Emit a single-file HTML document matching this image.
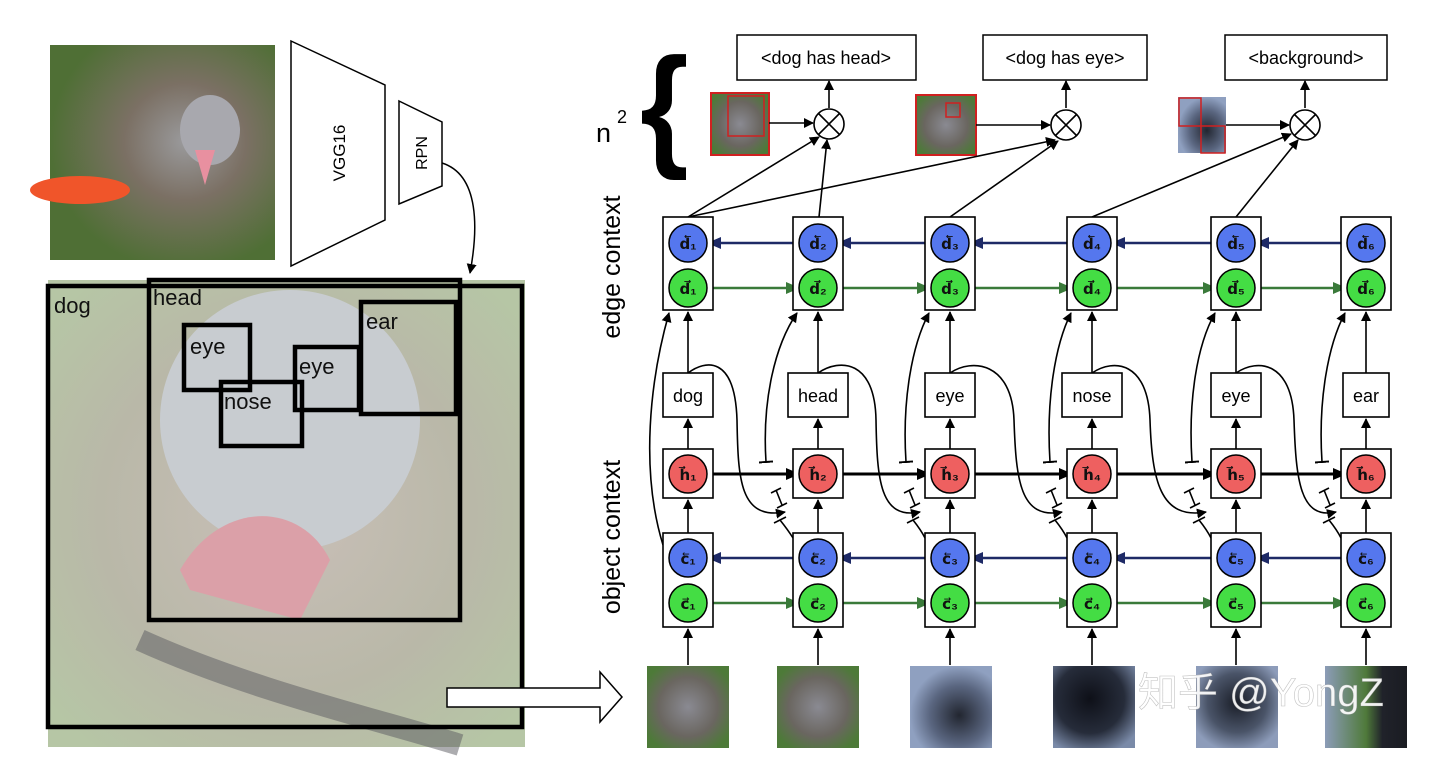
<!DOCTYPE html>
<html><head><meta charset="utf-8">
<style>
html,body{margin:0;padding:0;background:#fff;}
svg{display:block;}
text{font-family:"Liberation Sans","Noto Sans CJK SC",sans-serif;}
.m{font-family:"Liberation Serif",serif;font-weight:bold;}
</style></head>
<body>
<svg width="1440" height="758" viewBox="0 0 1440 758" xmlns="http://www.w3.org/2000/svg">
<defs>
<marker id="ak" markerWidth="10" markerHeight="10" refX="9" refY="5" orient="auto" markerUnits="userSpaceOnUse"><path d="M0,0 L10,5 L0,10 Z" fill="#000"/></marker>
<marker id="ab" markerWidth="14" markerHeight="14" refX="13" refY="7" orient="auto" markerUnits="userSpaceOnUse"><path d="M0,1 L14,7 L0,13 Z" fill="#000"/></marker>
<marker id="abl" markerWidth="14" markerHeight="12" refX="13" refY="6" orient="auto" markerUnits="userSpaceOnUse"><path d="M0,0 L14,6 L0,12 Z" fill="#1e2a66"/></marker>
<marker id="agr" markerWidth="14" markerHeight="12" refX="13" refY="6" orient="auto" markerUnits="userSpaceOnUse"><path d="M0,0 L14,6 L0,12 Z" fill="#3a7a3a"/></marker>
<marker id="tb" markerWidth="14" markerHeight="14" refX="1" refY="7" orient="auto" markerUnits="userSpaceOnUse"><path d="M1,0 L1,14" stroke="#000" stroke-width="2"/></marker>
<radialGradient id="dogp" cx="0.6" cy="0.45" r="0.6"><stop offset="0" stop-color="#9a9a9c"/><stop offset="0.45" stop-color="#7b7064"/><stop offset="1" stop-color="#4f6f35"/></radialGradient>
<radialGradient id="bigp" cx="0.5" cy="0.5" r="0.65"><stop offset="0" stop-color="#c9bfb8"/><stop offset="0.6" stop-color="#b9b8a8"/><stop offset="1" stop-color="#b6c6a5"/></radialGradient>
<radialGradient id="th1" cx="0.5" cy="0.5" r="0.6"><stop offset="0" stop-color="#8a8a92"/><stop offset="0.6" stop-color="#6a6660"/><stop offset="1" stop-color="#4d7a38"/></radialGradient>
<radialGradient id="th3" cx="0.6" cy="0.6" r="0.6"><stop offset="0" stop-color="#222630"/><stop offset="0.6" stop-color="#5a6680"/><stop offset="1" stop-color="#8fa0c0"/></radialGradient>
<radialGradient id="th4" cx="0.45" cy="0.4" r="0.7"><stop offset="0" stop-color="#0e1018"/><stop offset="0.6" stop-color="#262c3a"/><stop offset="1" stop-color="#7a8aa8"/></radialGradient>
<radialGradient id="th5" cx="0.5" cy="0.45" r="0.6"><stop offset="0" stop-color="#1a1e28"/><stop offset="0.6" stop-color="#4a5468"/><stop offset="1" stop-color="#8d9cba"/></radialGradient>
<linearGradient id="th6" x1="0" x2="1"><stop offset="0" stop-color="#8c9cb8"/><stop offset="0.5" stop-color="#4f7a3a"/><stop offset="0.7" stop-color="#20222a"/><stop offset="1" stop-color="#1a1c22"/></linearGradient>
</defs>

<rect x="50" y="45" width="225" height="215" fill="url(#dogp)"/>
<ellipse cx="80" cy="190" rx="50" ry="14" fill="#f0552a"/>
<ellipse cx="210" cy="130" rx="30" ry="35" fill="#a8a8ae"/>
<path d="M195,150 L205,185 L215,150 Z" fill="#e890a0"/>

<path d="M291,41 L385,85 L385,220 L291,266 Z" fill="#fff" stroke="#000" stroke-width="1.5"/>
<text transform="translate(345,153) rotate(-90)" font-size="17" text-anchor="middle">VGG16</text>
<path d="M399,101 L442,122 L442,186 L399,204 Z" fill="#fff" stroke="#000" stroke-width="1.5"/>
<text transform="translate(427,153) rotate(-90)" font-size="16" text-anchor="middle">RPN</text>
<path d="M442,163 C480,175 478,230 470,273" fill="none" stroke="#000" stroke-width="1.5" marker-end="url(#ak)"/>

<rect x="48" y="280" width="477" height="467" fill="url(#bigp)"/>
<ellipse cx="290" cy="420" rx="130" ry="130" fill="#c8ccd0"/>
<path d="M180,570 C220,500 300,500 330,560 L300,620 L190,590 Z" fill="#dba0a8"/>
<path d="M140,640 C250,690 380,720 460,745" stroke="#5a5a60" stroke-width="22" fill="none" opacity="0.5"/>
<g fill="none" stroke="#000" stroke-width="4.5">
<rect x="48" y="286" width="474" height="441"/>
<rect x="149" y="280" width="311" height="340"/>
<rect x="184" y="325" width="66" height="65"/>
<rect x="221" y="382" width="81" height="64"/>
<rect x="295" y="347" width="64" height="63"/>
<rect x="361" y="302" width="95" height="112"/>
</g>
<g font-size="22" fill="#111">
<text x="54" y="313">dog</text>
<text x="153" y="305">head</text>
<text x="190" y="354">eye</text>
<text x="224" y="409">nose</text>
<text x="299" y="374">eye</text>
<text x="366" y="329">ear</text>
</g>
<path d="M447,688 L600,688 L600,672 L622,697 L600,722 L600,707 L447,707 Z" fill="#fff" stroke="#000" stroke-width="1.5"/>

<text transform="translate(620,267) rotate(-90)" font-size="25" text-anchor="middle">edge context</text>
<text transform="translate(620,537) rotate(-90)" font-size="25" text-anchor="middle">object context</text>
<text x="596" y="142" font-size="27">n</text>
<text x="617" y="123" font-size="18">2</text>
<text x="640" y="152" font-size="125" font-family="Liberation Serif,serif" font-weight="bold" transform="translate(640,152) scale(1,1.08) translate(-640,-152)">{</text>

<g fill="#fff" stroke="#000" stroke-width="1.5">
<rect x="737" y="35" width="179" height="45"/>
<rect x="983" y="35" width="164" height="45"/>
<rect x="1225" y="35" width="162" height="45"/>
</g>
<g font-size="18" text-anchor="middle">
<text x="826" y="64">&lt;dog has head&gt;</text>
<text x="1065" y="64">&lt;dog has eye&gt;</text>
<text x="1306" y="64">&lt;background&gt;</text>
</g>
<rect x="711" y="93" width="58" height="62" fill="url(#th1)" stroke="#d02020" stroke-width="2"/>
<rect x="728" y="96" width="36" height="40" fill="none" stroke="#d02020" stroke-width="1.5"/>
<rect x="916" y="95" width="60" height="60" fill="url(#th1)" stroke="#d02020" stroke-width="2"/>
<rect x="946" y="103" width="14" height="14" fill="none" stroke="#d02020" stroke-width="1.5"/>
<rect x="1178" y="97" width="48" height="56" fill="url(#th3)"/>
<rect x="1179" y="98" width="22" height="28" fill="none" stroke="#d02020" stroke-width="1.5"/>
<rect x="1201" y="126" width="24" height="27" fill="none" stroke="#d02020" stroke-width="1.5"/>

<g stroke="#000" stroke-width="1.6" fill="none">
<line x1="769" y1="123" x2="813" y2="123" marker-end="url(#ak)"/>
<line x1="976" y1="125" x2="1050" y2="125" marker-end="url(#ak)"/>
<line x1="1226" y1="125" x2="1289" y2="125" marker-end="url(#ak)"/>
<line x1="829" y1="108" x2="829" y2="81" marker-end="url(#ak)"/>
<line x1="1066" y1="108" x2="1066" y2="81" marker-end="url(#ak)"/>
<line x1="1305" y1="108" x2="1305" y2="81" marker-end="url(#ak)"/>
<circle cx="829" cy="124" r="15"/><path d="M818,113 L840,135 M840,113 L818,135"/>
<circle cx="1066" cy="125" r="15"/><path d="M1055,114 L1077,136 M1077,114 L1055,136"/>
<circle cx="1305" cy="125" r="15"/><path d="M1294,114 L1316,136 M1316,114 L1294,136"/>
<line x1="688" y1="217" x2="819" y2="137" marker-end="url(#ak)"/>
<line x1="688" y1="217" x2="1055" y2="140" marker-end="url(#ak)"/>
<line x1="819" y1="217" x2="827" y2="140" marker-end="url(#ak)"/>
<line x1="950" y1="217" x2="1058" y2="141" marker-end="url(#ak)"/>
<line x1="1092" y1="217" x2="1291" y2="134" marker-end="url(#ak)"/>
<line x1="1236" y1="217" x2="1298" y2="140" marker-end="url(#ak)"/>
</g>

<g stroke-width="2.5" fill="none">
<g stroke="#1e2a66">
<line x1="800" y1="243" x2="708" y2="243" marker-end="url(#abl)"/>
<line x1="931" y1="243" x2="838" y2="243" marker-end="url(#abl)"/>
<line x1="1073" y1="243" x2="970" y2="243" marker-end="url(#abl)"/>
<line x1="1217" y1="243" x2="1112" y2="243" marker-end="url(#abl)"/>
<line x1="1347" y1="243" x2="1256" y2="243" marker-end="url(#abl)"/>
<line x1="800" y1="558" x2="708" y2="558" marker-end="url(#abl)"/>
<line x1="931" y1="558" x2="838" y2="558" marker-end="url(#abl)"/>
<line x1="1073" y1="558" x2="970" y2="558" marker-end="url(#abl)"/>
<line x1="1217" y1="558" x2="1112" y2="558" marker-end="url(#abl)"/>
<line x1="1347" y1="558" x2="1256" y2="558" marker-end="url(#abl)"/>
</g>
<g stroke="#3a7a3a">
<line x1="707" y1="288" x2="799" y2="288" marker-end="url(#agr)"/>
<line x1="837" y1="288" x2="930" y2="288" marker-end="url(#agr)"/>
<line x1="969" y1="288" x2="1072" y2="288" marker-end="url(#agr)"/>
<line x1="1111" y1="288" x2="1216" y2="288" marker-end="url(#agr)"/>
<line x1="1255" y1="288" x2="1346" y2="288" marker-end="url(#agr)"/>
<line x1="707" y1="603" x2="799" y2="603" marker-end="url(#agr)"/>
<line x1="837" y1="603" x2="930" y2="603" marker-end="url(#agr)"/>
<line x1="969" y1="603" x2="1072" y2="603" marker-end="url(#agr)"/>
<line x1="1111" y1="603" x2="1216" y2="603" marker-end="url(#agr)"/>
<line x1="1255" y1="603" x2="1346" y2="603" marker-end="url(#agr)"/>
</g>
<g stroke="#000" stroke-width="3">
<line x1="707" y1="474" x2="799" y2="474" marker-end="url(#ab)"/>
<line x1="837" y1="474" x2="930" y2="474" marker-end="url(#ab)"/>
<line x1="969" y1="474" x2="1072" y2="474" marker-end="url(#ab)"/>
<line x1="1111" y1="474" x2="1216" y2="474" marker-end="url(#ab)"/>
<line x1="1255" y1="474" x2="1346" y2="474" marker-end="url(#ab)"/>
</g>
</g>

<g stroke="#000" stroke-width="1.6" fill="none">
<line x1="688" y1="665" x2="688" y2="629" marker-end="url(#ak)"/>
<line x1="818" y1="665" x2="818" y2="629" marker-end="url(#ak)"/>
<line x1="950" y1="665" x2="950" y2="629" marker-end="url(#ak)"/>
<line x1="1092" y1="665" x2="1092" y2="629" marker-end="url(#ak)"/>
<line x1="1236" y1="665" x2="1236" y2="629" marker-end="url(#ak)"/>
<line x1="1366" y1="665" x2="1366" y2="629" marker-end="url(#ak)"/>

<line x1="688" y1="533" x2="688" y2="500" marker-end="url(#ak)"/>
<line x1="818" y1="533" x2="818" y2="500" marker-end="url(#ak)"/>
<line x1="950" y1="533" x2="950" y2="500" marker-end="url(#ak)"/>
<line x1="1092" y1="533" x2="1092" y2="500" marker-end="url(#ak)"/>
<line x1="1236" y1="533" x2="1236" y2="500" marker-end="url(#ak)"/>
<line x1="1366" y1="533" x2="1366" y2="500" marker-end="url(#ak)"/>

<line x1="688" y1="449" x2="688" y2="419" marker-end="url(#ak)"/>
<line x1="818" y1="449" x2="818" y2="419" marker-end="url(#ak)"/>
<line x1="950" y1="449" x2="950" y2="419" marker-end="url(#ak)"/>
<line x1="1092" y1="449" x2="1092" y2="419" marker-end="url(#ak)"/>
<line x1="1236" y1="449" x2="1236" y2="419" marker-end="url(#ak)"/>
<line x1="1366" y1="449" x2="1366" y2="419" marker-end="url(#ak)"/>

<line x1="688" y1="373" x2="688" y2="312" marker-end="url(#ak)"/>
<line x1="818" y1="373" x2="818" y2="312" marker-end="url(#ak)"/>
<line x1="950" y1="373" x2="950" y2="312" marker-end="url(#ak)"/>
<line x1="1092" y1="373" x2="1092" y2="312" marker-end="url(#ak)"/>
<line x1="1236" y1="373" x2="1236" y2="312" marker-end="url(#ak)"/>
<line x1="1366" y1="373" x2="1366" y2="312" marker-end="url(#ak)"/>

<path d="M663,545 C640,470 650,380 669,313" marker-end="url(#ak)"/>
<path d="M766,462 C762,400 775,345 797,313" marker-end="url(#ak)" marker-start="url(#tb)"/>
<path d="M906,462 C902,400 912,345 929,313" marker-end="url(#ak)" marker-start="url(#tb)"/>
<path d="M1050,462 C1046,400 1055,345 1071,313" marker-end="url(#ak)" marker-start="url(#tb)"/>
<path d="M1192,462 C1188,400 1197,345 1215,313" marker-end="url(#ak)" marker-start="url(#tb)"/>
<path d="M1322,462 C1318,400 1328,345 1345,313" marker-end="url(#ak)" marker-start="url(#tb)"/>
<path d="M688,373 C705,360 735,355 737,420 C738,480 740,520 785,512" marker-end="url(#ak)"/>
<path d="M818,373 C840,358 875,360 876,420 C877,480 880,520 920,512" marker-end="url(#ak)"/>
<path d="M950,373 C972,358 1012,362 1014,420 C1016,480 1020,520 1062,512" marker-end="url(#ak)"/>
<path d="M1092,373 C1114,358 1148,362 1150,420 C1152,480 1160,520 1206,512" marker-end="url(#ak)"/>
<path d="M1236,373 C1258,358 1292,362 1294,420 C1296,480 1300,520 1336,512" marker-end="url(#ak)"/>
<path d="M776,490 L782,505 M771,493 L781,488 M777,508 L787,503"/>
<path d="M909,490 L915,505 M904,493 L914,488 M910,508 L920,503"/>
<path d="M1051,490 L1057,505 M1046,493 L1056,488 M1052,508 L1062,503"/>
<path d="M1189,490 L1195,505 M1184,493 L1194,488 M1190,508 L1200,503"/>
<path d="M1324,490 L1330,505 M1319,493 L1329,488 M1325,508 L1335,503"/>
<path d="M793,538 C788,530 784,525 780,520 M774,523 L786,517"/>
<path d="M925,538 C921,530 917,525 913,520 M907,523 L919,517"/>
<path d="M1067,538 C1063,530 1059,525 1055,520 M1049,523 L1061,517"/>
<path d="M1211,538 C1207,530 1203,525 1199,520 M1193,523 L1205,517"/>
<path d="M1341,538 C1337,530 1333,525 1329,520 M1323,523 L1335,517"/>
</g>

<g fill="#fff" stroke="#000" stroke-width="1.6">
<rect x="663" y="217" width="50" height="93"/><rect x="793" y="217" width="50" height="93"/><rect x="925" y="217" width="50" height="93"/><rect x="1067" y="217" width="50" height="93"/><rect x="1211" y="217" width="50" height="93"/><rect x="1341" y="217" width="50" height="93"/>
<rect x="663" y="533" width="50" height="94"/><rect x="793" y="533" width="50" height="94"/><rect x="925" y="533" width="50" height="94"/><rect x="1067" y="533" width="50" height="94"/><rect x="1211" y="533" width="50" height="94"/><rect x="1341" y="533" width="50" height="94"/>
<rect x="663" y="449" width="50" height="49"/><rect x="793" y="449" width="50" height="49"/><rect x="925" y="449" width="50" height="49"/><rect x="1067" y="449" width="50" height="49"/><rect x="1211" y="449" width="50" height="49"/><rect x="1341" y="449" width="50" height="49"/>
<rect x="663" y="373" width="50" height="44"/><rect x="788" y="373" width="60" height="44"/><rect x="925" y="373" width="50" height="44"/><rect x="1062" y="373" width="60" height="44"/><rect x="1211" y="373" width="50" height="44"/><rect x="1343" y="373" width="46" height="44"/>
</g>
<g font-size="18" text-anchor="middle">
<text x="688" y="402">dog</text><text x="818" y="402">head</text><text x="950" y="402">eye</text><text x="1092" y="402">nose</text><text x="1236" y="402">eye</text><text x="1366" y="402">ear</text>
</g>
<g stroke="#000" stroke-width="1.5">
<g fill="#5577ee">
<circle cx="688" cy="243" r="19"/><circle cx="818" cy="243" r="19"/><circle cx="950" cy="243" r="19"/><circle cx="1092" cy="243" r="19"/><circle cx="1236" cy="243" r="19"/><circle cx="1366" cy="243" r="19"/>
<circle cx="688" cy="558" r="19"/><circle cx="818" cy="558" r="19"/><circle cx="950" cy="558" r="19"/><circle cx="1092" cy="558" r="19"/><circle cx="1236" cy="558" r="19"/><circle cx="1366" cy="558" r="19"/>
</g>
<g fill="#44dd44">
<circle cx="688" cy="288" r="19"/><circle cx="818" cy="288" r="19"/><circle cx="950" cy="288" r="19"/><circle cx="1092" cy="288" r="19"/><circle cx="1236" cy="288" r="19"/><circle cx="1366" cy="288" r="19"/>
<circle cx="688" cy="603" r="19"/><circle cx="818" cy="603" r="19"/><circle cx="950" cy="603" r="19"/><circle cx="1092" cy="603" r="19"/><circle cx="1236" cy="603" r="19"/><circle cx="1366" cy="603" r="19"/>
</g>
<g fill="#ee6060">
<circle cx="688" cy="474" r="19"/><circle cx="818" cy="474" r="19"/><circle cx="950" cy="474" r="19"/><circle cx="1092" cy="474" r="19"/><circle cx="1236" cy="474" r="19"/><circle cx="1366" cy="474" r="19"/>
</g>
</g>
<g class="m" font-size="15" text-anchor="middle" fill="#111">
<text x="688" y="249">d⃖₁</text><text x="818" y="249">d⃖₂</text><text x="950" y="249">d⃖₃</text><text x="1092" y="249">d⃖₄</text><text x="1236" y="249">d⃖₅</text><text x="1366" y="249">d⃖₆</text>
<text x="688" y="294">d⃗₁</text><text x="818" y="294">d⃗₂</text><text x="950" y="294">d⃗₃</text><text x="1092" y="294">d⃗₄</text><text x="1236" y="294">d⃗₅</text><text x="1366" y="294">d⃗₆</text>
<text x="688" y="480">h⃗₁</text><text x="818" y="480">h⃗₂</text><text x="950" y="480">h⃗₃</text><text x="1092" y="480">h⃗₄</text><text x="1236" y="480">h⃗₅</text><text x="1366" y="480">h⃗₆</text>
<text x="688" y="564">c⃖₁</text><text x="818" y="564">c⃖₂</text><text x="950" y="564">c⃖₃</text><text x="1092" y="564">c⃖₄</text><text x="1236" y="564">c⃖₅</text><text x="1366" y="564">c⃖₆</text>
<text x="688" y="609">c⃗₁</text><text x="818" y="609">c⃗₂</text><text x="950" y="609">c⃗₃</text><text x="1092" y="609">c⃗₄</text><text x="1236" y="609">c⃗₅</text><text x="1366" y="609">c⃗₆</text>
</g>

<rect x="647" y="666" width="82" height="82" fill="url(#th1)"/>
<rect x="777" y="666" width="82" height="82" fill="url(#th1)"/>
<rect x="910" y="666" width="82" height="82" fill="url(#th3)"/>
<rect x="1053" y="666" width="82" height="82" fill="url(#th4)"/>
<rect x="1196" y="666" width="82" height="82" fill="url(#th5)"/>
<rect x="1325" y="666" width="82" height="82" fill="url(#th6)"/>

<text x="1138" y="706" font-size="40" fill="#fff" fill-opacity="0.92" stroke="#888" stroke-width="0.6" stroke-opacity="0.5">知乎 @YongZ</text>
</svg>
</body></html>
